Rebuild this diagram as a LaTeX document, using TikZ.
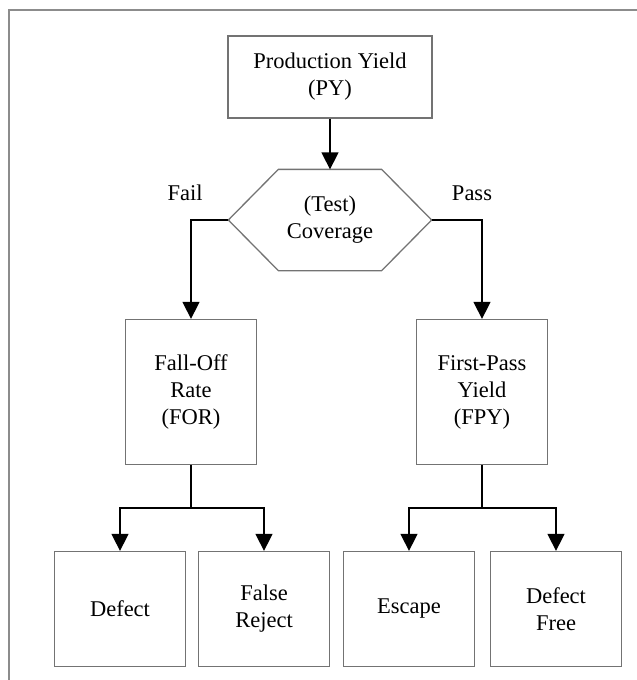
\documentclass[tikz,border=0pt]{standalone}
\usepackage{fontspec}
\setmainfont{Liberation Serif}
\usetikzlibrary{arrows.meta}

\begin{document}
\begin{tikzpicture}[x=1pt, y=-1pt,
		box/.style={draw=black!55, line width=1.3pt, align=center, inner sep=0pt,
			font=\fontsize{22.5}{27}\selectfont},
		line/.style={line width=1.5pt, black},
		arr/.style={line, -{Triangle[width=17pt,length=17pt]}}]
		\useasboundingbox (0,0) rectangle (637,680);
		% frame
		\draw[black!45, line width=1.3pt] (9,680) -- (9,10) -- (637,10);

		\node[box, minimum width=204pt, minimum height=82pt] (py) at (330,77) {Production Yield\\(PY)};

		\node[box, draw=none, minimum width=202pt, minimum height=100pt] (cov) at (330,220) {(Test)\\Coverage};
		\draw[draw=black!55, line width=1.3pt] (cov.west) -- ([xshift=50pt]cov.north west) -- ([xshift=-50pt]cov.north east)
			-- (cov.east) -- ([xshift=-50pt]cov.south east) -- ([xshift=50pt]cov.south west) -- cycle;

		\node[box, minimum width=131pt, minimum height=145pt] (for) at (191,392) {Fall-Off\\Rate\\(FOR)};
		\node[box, minimum width=131pt, minimum height=145pt] (fpy) at (482,392) {First-Pass\\Yield\\(FPY)};

		\node[box, minimum width=131pt, minimum height=115pt] (defect) at (120,609) {Defect};
		\node[box, minimum width=131pt, minimum height=115pt] (falsereject) at (264,609) {False\\Reject};
		\node[box, minimum width=131pt, minimum height=115pt] (escape) at (409,609) {Escape};
		\node[box, minimum width=131pt, minimum height=115pt] (defectfree) at (556,609) {Defect\\Free};

		\node[font=\fontsize{22.5}{27}\selectfont] (fail) at (185,193) {Fail};
		\node[font=\fontsize{22.5}{27}\selectfont] (pass) at (472,193) {Pass};

		\draw[arr] (py) -- (cov.north);
		\draw[arr] (cov.west) -| (for);
		\draw[arr] (cov.east) -| (fpy);

		\draw[line] (for.south) -- ++(0,43) coordinate (forsplit);
		\draw[arr] (forsplit) -| (defect);
		\draw[arr] (forsplit) -| (falsereject);

		\draw[line] (fpy.south) -- ++(0,43) coordinate (fpysplit);
		\draw[arr] (fpysplit) -| (escape);
		\draw[arr] (fpysplit) -| (defectfree);
	\end{tikzpicture}
\end{document}
